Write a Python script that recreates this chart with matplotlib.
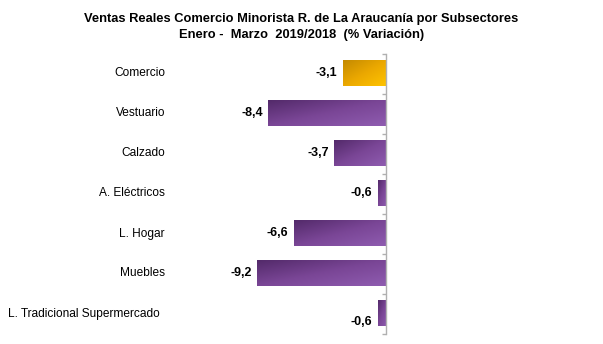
import numpy as np
import matplotlib
matplotlib.use("Agg")
import matplotlib.pyplot as plt
from matplotlib.colors import LinearSegmentedColormap

categories = ["Comercio", "Vestuario", "Calzado", "A. Eléctricos", "L. Hogar", "Muebles",
              "L. Tradicional Supermercado"]
values = [-3.1, -8.4, -3.7, -0.6, -6.6, -9.2, -0.6]
value_labels = ["-3,1", "-8,4", "-3,7", "-0,6", "-6,6", "-9,2", "-0,6"]
highlight = "Comercio"

plt.rcParams['font.family'] = ['Liberation Sans', 'DejaVu Sans']

W, H = 603, 344
fig = plt.figure(figsize=(W / 100, H / 100), dpi=100)
ax_left, ax_right = 200, 386
ax_top, ax_bottom = 53.5, 333.5
ax = fig.add_axes([ax_left / W, 1 - ax_bottom / H, (ax_right - ax_left) / W, (ax_bottom - ax_top) / H])

px_per_unit = 14.0
xmin = -(ax_right - ax_left) / px_per_unit
n = len(categories)

purple = LinearSegmentedColormap.from_list("p", ["#532a6a", "#7a4696", "#8f5cb0"])
gold = LinearSegmentedColormap.from_list("g", ["#c48a00", "#eba800", "#ffc400"])

bh = 0.63
gy, gx = np.mgrid[0:1:50j, 0:1:100j]
grad = (gx + gy) / 2
label_x = [165, 165, 165, 165, 165, 165, 160]
label_dy = [0, 0, 0, 0, 0, 0, 1]
val_dy = [0, 0, 0, 0, 0, 0, 0.22]
for i, (c, v) in enumerate(zip(categories, values)):
    cmap = gold if c == highlight else purple
    ax.imshow(grad, cmap=cmap, extent=[v, 0, i + bh / 2, i - bh / 2],
              aspect='auto', interpolation='bilinear', zorder=2)
    ax.text(v - 5 / px_per_unit, i + val_dy[i], value_labels[i], ha='right', va='center',
            fontsize=9, fontweight='bold', color='black')
    fig.text(label_x[i] / W, 1 - (73.5 + 40 * i + label_dy[i]) / H, c, ha='right', va='center',
             fontsize=8.6, color='black')

ax.set_xlim(xmin, 0)
ax.set_ylim(n - 0.5, -0.5)
for s in ['top', 'left', 'bottom']:
    ax.spines[s].set_visible(False)
ax.spines['right'].set_color('#b0b0b0')
ax.spines['right'].set_linewidth(1.0)
ax.set_xticks([])
ax.yaxis.tick_right()
ax.set_yticks(np.arange(-0.5, n, 1.0))
ax.set_yticklabels([])
ax.tick_params(axis='y', direction='in', length=3, color='#b0b0b0', width=1)

fig.text(0.5, 1 - 19 / H, "Ventas Reales Comercio Minorista R. de La Araucanía por Subsectores",
         ha='center', va='center', fontsize=9.3, fontweight='bold')
fig.text(0.5, 1 - 35 / H, "Enero -  Marzo  2019/2018  (% Variación)",
         ha='center', va='center', fontsize=9.3, fontweight='bold')

fig.savefig("out.png", dpi=100)
